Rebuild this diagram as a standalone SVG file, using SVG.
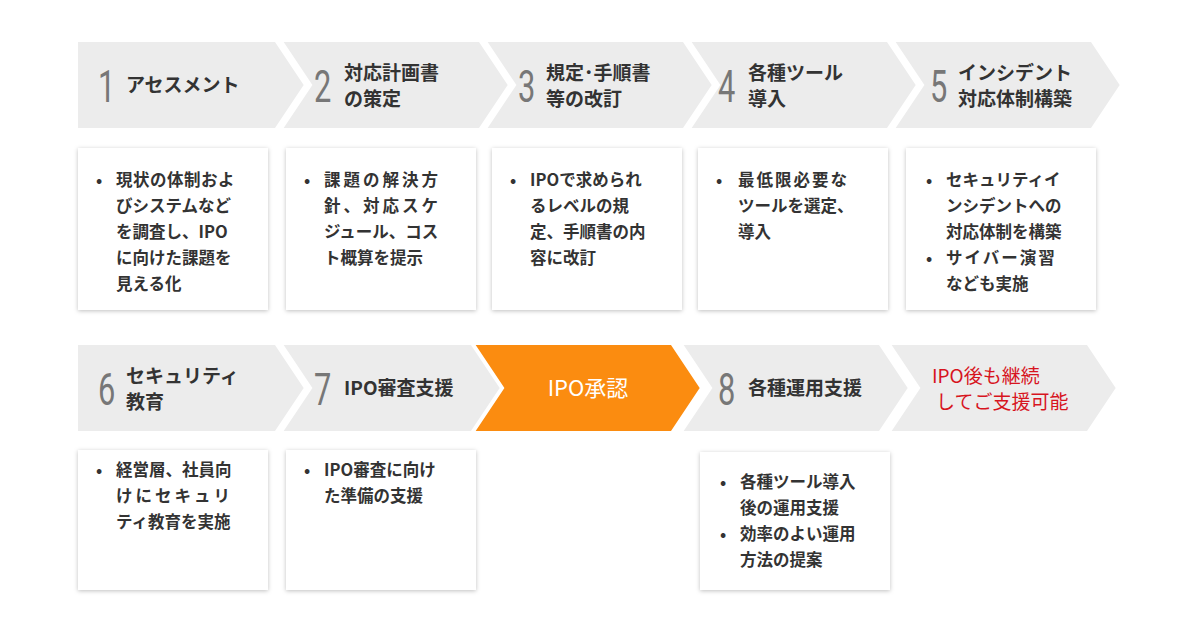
<svg xmlns="http://www.w3.org/2000/svg" width="1200" height="630" viewBox="0 0 1200 630">
<defs>
<filter id="sh" x="-10%" y="-10%" width="120%" height="120%"><feDropShadow dx="0" dy="1" stdDeviation="2" flood-color="#000" flood-opacity="0.25"/></filter>
<polygon id="chev" points="0,0 200,0 230,45 200,90 0,90 30,45"/>
<polygon id="chev1" points="0,0 200,0 230,45 200,90 0,90"/>
</defs>
<style>
.c{fill:#ececec;stroke:#fff;stroke-width:4}
.n{font-family:Roboto,"Liberation Sans",sans-serif;font-size:44px;fill:#777}
.t{font-family:"Noto Sans CJK JP",sans-serif;font-size:19px;font-weight:bold;fill:#333}
.b{font-family:"Noto Sans CJK JP",sans-serif;font-size:16.5px;font-weight:bold;fill:#333}
.card{fill:#fff;filter:url(#sh)}
</style>
<rect width="1200" height="630" fill="#fff"/>
<g id="s1"><use href="#chev1" x="76" y="40" class="c"/><text class="n" transform="translate(98,102) scale(0.7,1)">1</text><text class="t" x="126" y="92">アセスメント</text></g>
<g id="s2"><use href="#chev" x="280" y="40" class="c"/><text class="n" transform="translate(314,102) scale(0.7,1)">2</text><text class="t" x="344" y="80">対応計画書</text><text class="t" x="344" y="106">の策定</text></g>
<g id="s3"><use href="#chev" x="484" y="40" class="c"/><text class="n" transform="translate(518,102) scale(0.7,1)">3</text><text class="t" x="546" y="80">規定･手順書</text><text class="t" x="546" y="106">等の改訂</text></g>
<g id="s4"><use href="#chev" x="688" y="40" class="c"/><text class="n" transform="translate(718,102) scale(0.7,1)">4</text><text class="t" x="748" y="80">各種ツール</text><text class="t" x="748" y="106">導入</text></g>
<g id="s5"><use href="#chev" x="892" y="40" class="c"/><text class="n" transform="translate(930,102) scale(0.7,1)">5</text><text class="t" x="958" y="80">インシデント</text><text class="t" x="958" y="106">対応体制構築</text></g>

<g id="d1"><rect class="card" x="78" y="148" width="190" height="162"/><text class="b"><tspan x="96" y="186">•</tspan><tspan x="116" y="186" letter-spacing="0.5">現状の体制およ</tspan><tspan x="116" y="212">びシステムなど</tspan><tspan x="116" y="238">を調査し、IPO</tspan><tspan x="116" y="264">に向けた課題を</tspan><tspan x="116" y="290">見える化</tspan></text></g>
<g id="d2"><rect class="card" x="286" y="148" width="190" height="162"/><text class="b"><tspan x="304" y="186">•</tspan><tspan x="324" y="186" letter-spacing="3">課題の解決方</tspan><tspan x="324" y="212" letter-spacing="3">針、対応スケ</tspan><tspan x="324" y="238">ジュール、コス</tspan><tspan x="324" y="264">ト概算を提示</tspan></text></g>
<g id="d3"><rect class="card" x="492" y="148" width="190" height="162"/><text class="b"><tspan x="510" y="186">•</tspan><tspan x="530" y="186">IPOで求められ</tspan><tspan x="530" y="212">るレベルの規</tspan><tspan x="530" y="238">定、手順書の内</tspan><tspan x="530" y="264">容に改訂</tspan></text></g>
<g id="d4"><rect class="card" x="698" y="148" width="190" height="162"/><text class="b"><tspan x="716" y="186">•</tspan><tspan x="738" y="186" letter-spacing="2">最低限必要な</tspan><tspan x="738" y="212">ツールを選定、</tspan><tspan x="738" y="238">導入</tspan></text></g>
<g id="d5"><rect class="card" x="906" y="148" width="190" height="162"/><text class="b"><tspan x="926" y="186">•</tspan><tspan x="946" y="186">セキュリティイ</tspan><tspan x="946" y="212">ンシデントへの</tspan><tspan x="946" y="238">対応体制を構築</tspan><tspan x="926" y="264">•</tspan><tspan x="946" y="264" letter-spacing="2">サイバー演習</tspan><tspan x="946" y="290">なども実施</tspan></text></g>

<g id="s6"><use href="#chev1" x="76" y="343" class="c"/><text class="n" transform="translate(98,405) scale(0.7,1)">6</text><text class="t" x="126" y="383">セキュリティ</text><text class="t" x="126" y="409">教育</text></g>
<g id="s7"><use href="#chev" x="280" y="343" class="c"/><text class="n" transform="translate(314,405) scale(0.7,1)">7</text><text class="t" x="344" y="395">IPO審査支援</text></g>
<g id="s-ipo"><use href="#chev" x="472" y="343" fill="#fb8c10" stroke="#fff" stroke-width="4"/><text x="588" y="396" text-anchor="middle" font-family="'Noto Sans CJK JP',sans-serif" font-size="22" fill="#fff">IPO承認</text></g>
<g id="s8"><use href="#chev" x="680" y="343" class="c"/><text class="n" transform="translate(718,405) scale(0.7,1)">8</text><text class="t" x="748" y="395">各種運用支援</text></g>
<g id="s9"><use href="#chev" x="888" y="343" class="c"/><text font-family="'Noto Sans CJK JP',sans-serif" font-size="19" fill="#d7141e"><tspan x="932" y="383">IPO後も継続</tspan><tspan x="936" y="409">してご支援可能</tspan></text></g>

<g id="d6"><rect class="card" x="78" y="450" width="190" height="140"/><text class="b"><tspan x="96" y="476">•</tspan><tspan x="116" y="476">経営層、社員向</tspan><tspan x="116" y="502" letter-spacing="3">けにセキュリ</tspan><tspan x="116" y="528">ティ教育を実施</tspan></text></g>
<g id="d7"><rect class="card" x="286" y="450" width="190" height="140"/><text class="b"><tspan x="304" y="476">•</tspan><tspan x="324" y="476">IPO審査に向け</tspan><tspan x="324" y="502">た準備の支援</tspan></text></g>
<g id="d8"><rect class="card" x="700" y="452" width="190" height="138"/><text class="b"><tspan x="720" y="488">•</tspan><tspan x="740" y="488">各種ツール導入</tspan><tspan x="740" y="514">後の運用支援</tspan><tspan x="720" y="540">•</tspan><tspan x="740" y="540">効率のよい運用</tspan><tspan x="740" y="566">方法の提案</tspan></text></g>
<g id="connectors"/>
</svg>
